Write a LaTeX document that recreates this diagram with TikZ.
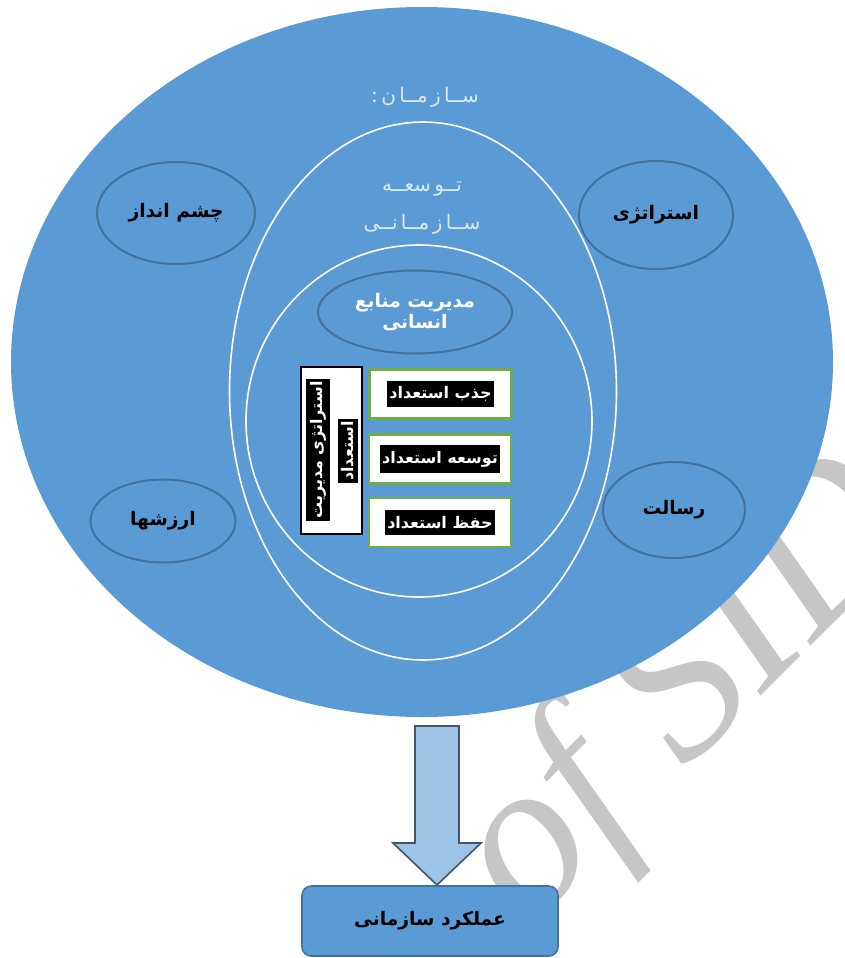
\documentclass[tikz,border=0pt]{standalone}
\usepackage{fontspec}
\usepackage{tikz}
\usetikzlibrary{shapes.geometric}
\setmainfont{Liberation Serif}
\newfontfamily\fa[Script=Arabic]{DejaVu Sans}
\TeXXeTstate=1
\definecolor{orgblue}{HTML}{5B9BD5}
\definecolor{rimblue}{HTML}{41719C}
\definecolor{leafgreen}{HTML}{70AD47}
\definecolor{paleblue}{HTML}{9DC3E6}
\definecolor{slate}{HTML}{44546A}
\definecolor{mist}{HTML}{DCE9F6}
\definecolor{wmgray}{HTML}{C6C6C6}

\begin{document}
\begin{tikzpicture}[x=0.75pt,y=-0.75pt,
  oval/.style={ellipse,draw=rimblue,line width=1.5pt,fill=orgblue,inner sep=0pt},
  ring/.style={ellipse,draw=white,line width=1.2pt,inner sep=0pt},
  talent/.style={draw=leafgreen,line width=1.8pt,fill=white,minimum width=106.5pt,minimum height=36.5pt,inner sep=0pt},
  tag/.style={fill=black,text=white,font=\fa\bfseries\fontsize{12}{14}\selectfont,inner xsep=1.5pt,inner ysep=4.5pt},
  title/.style={font=\fa\bfseries\fontsize{14}{16}\selectfont},
  faint/.style={text=mist,font=\fa\fontsize{15}{28.5}\selectfont,align=center}]

    \useasboundingbox (0,0) rectangle (844,958);
    \node[text=wmgray,font=\itshape\fontsize{162}{162}\selectfont,rotate=45] (mark) at (688,694) {of SID};

    \node[ellipse,fill=orgblue,minimum width=616.5pt,minimum height=532.5pt,inner sep=0pt] (org) at (422,362) {};
    \node[ring,minimum width=290.25pt,minimum height=403.5pt] (orgdev) at (423,391) {};
    \node[ring,minimum width=259.5pt,minimum height=264pt] (core) at (419,421) {};

    \node[faint] (orglabel) at (425,97) {\beginR ســا\,ز\,مــا\,ن\,:\endR};
    \node[faint] (devlabel) at (422,208) {\beginR تــو\,سعــه\endR\\\beginR ســا\,ز\,مــا\,نــی\endR};

    \node[oval,minimum width=118.5pt,minimum height=76.5pt,title] (vision) at (176,213) {\beginR چشم انداز\endR};
    \node[oval,minimum width=115.5pt,minimum height=81pt,title] (strategy) at (656,215) {\beginR استراتژی\endR};
    \node[oval,minimum width=108.75pt,minimum height=62.25pt,title] (values) at (163,521) {\beginR ارزشها\endR};
    \node[oval,minimum width=106.5pt,minimum height=72pt,title] (mission) at (674,510) {\beginR رسالت\endR};
    \node[oval,minimum width=145.5pt,minimum height=62.25pt,title,text=white,align=center] (hrm) at (415,312) {\beginR مدیریت منابع\endR\\\beginR انسانی\endR};

    \node[draw=black,line width=0.8pt,fill=white,minimum width=45.75pt,minimum height=125.25pt,inner sep=0pt] (talentplan) at (331.5,450.5) {};
    \node[tag,rotate=90,inner ysep=3pt] (planline1) at (318,450) {\beginR استراتژی مدیریت\endR};
    \node[tag,rotate=90,inner ysep=3pt] (planline2) at (348,451) {\beginR استعداد\endR};

    \node[talent] (attract) at (440.5,394) {};
    \node[tag] at (attract) {\beginR جذب استعداد\endR};
    \node[talent] (develop) at (440,459) {};
    \node[tag] at (develop) {\beginR توسعه استعداد\endR};
    \node[talent] (retain) at (440,522.5) {};
    \node[tag] at (retain) {\beginR حفظ استعداد\endR};

    \node[draw=rimblue,fill=orgblue,rounded corners=7pt,line width=1.2pt,minimum width=192pt,minimum height=52.5pt,title] (perf) at (430,921) {\beginR عملکرد سازمانی\endR};
    \coordinate (tip) at (437,885);
    \draw[slate,fill=paleblue,line width=1.2pt] (tip) -- ++(-44,-42) -- ++(22,0) -- ++(0,-117) -- ++(44,0) -- ++(0,117) -- ++(22,0) -- cycle;
\end{tikzpicture}
\end{document}
